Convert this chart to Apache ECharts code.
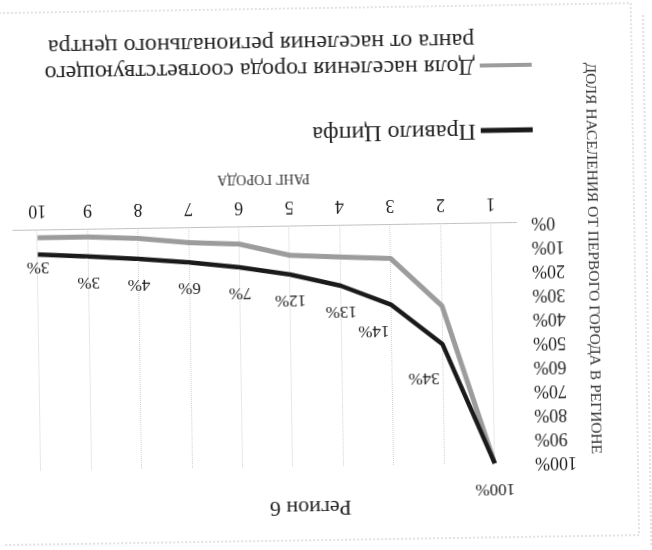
<!DOCTYPE html>
<html>
<head>
<meta charset="utf-8">
<script src="https://cdn.jsdelivr.net/npm/echarts@6/dist/echarts.min.js"></script>
<style>
html,body{margin:0;padding:0;background:#fff;}
#c{width:652px;height:550px;transform:rotate(179.1deg);transform-origin:50% 50%;}
</style>
</head>
<body>
<div id="c"></div>
<script>
var titleText = 'Регион 6';
var categories = ['1','2','3','4','5','6','7','8','9','10'];
var zipfName = 'Правило Ципфа';
var zipfValues = [100, 50, 33.3, 25, 20, 16.7, 14.3, 12.5, 11.1, 10];
var shareName = 'Доля населения города соответствующего\nранга от населения регионального центра';
var shareValues = [100, 34, 14, 13, 12, 7, 6, 4, 3, 3];
var xAxisName = 'РАНГ ГОРОДА';
var yAxisName = 'ДОЛЯ НАСЕЛЕНИЯ ОТ ПЕРВОГО ГОРОДА В РЕГИОНЕ';

var FONT = '"Liberation Serif", "Times New Roman", serif';
var chart = echarts.init(document.getElementById('c'), null, {renderer: 'canvas'});
chart.setOption({
  backgroundColor: '#ffffff',
  animation: false,
  title: {
    text: titleText, left: 299, top: 27,
    textStyle: {fontFamily: FONT, fontSize: 22, fontWeight: 'normal', color: '#222'}
  },
  legend: [{
    data: [{name: zipfName, icon: 'rect'}],
    orient: 'vertical', left: 117, top: 404, padding: 0,
    itemWidth: 52, itemHeight: 5, symbolKeepAspect: false,
    textStyle: {fontFamily: FONT, fontSize: 24, color: '#222', lineHeight: 26}
  }, {
    data: [{name: shareName, icon: 'path://M0,11H50V15H0Z M0,0H0.01V0.01H0Z M0,52H0.01V52.01H0Z'}],
    orient: 'vertical', left: 117, top: 469, padding: 0,
    itemWidth: 52, itemHeight: 52, symbolKeepAspect: false,
    textStyle: {fontFamily: FONT, fontSize: 24, color: '#222', lineHeight: 26}
  }],
  grid: {left: 135, right: 13, top: 84, bottom: 226, containLabel: false},
  xAxis: {
    type: 'category', data: categories, boundaryGap: true,
    name: xAxisName, nameLocation: 'middle', nameGap: 41,
    nameTextStyle: {fontFamily: FONT, fontSize: 14, color: '#333'},
    axisLine: {show: true, lineStyle: {color: '#b5b5b5', type: 'dotted', width: 1}},
    axisTick: {show: false},
    axisLabel: {fontFamily: FONT, fontSize: 18, color: '#222', margin: 11},
    splitLine: {show: true, alignWithLabel: true, lineStyle: {color: '#d0d0d0', type: 'dotted', width: 1}}
  },
  yAxis: {
    type: 'value', min: 0, max: 100, interval: 10,
    name: yAxisName, nameLocation: 'middle', nameGap: 62, nameRotate: 90,
    nameTextStyle: {fontFamily: FONT, fontSize: 15.5, color: '#333', padding: [0, 167, 0, 0]},
    axisLine: {show: false}, axisTick: {show: false},
    axisLabel: {fontFamily: FONT, fontSize: 18, color: '#222', margin: 15, formatter: '{value}%'},
    splitLine: {show: false}
  },
  series: [{
    name: zipfName, type: 'line', data: zipfValues, z: 3,
    showSymbol: true, symbol: 'circle', symbolSize: 0.1,
    lineStyle: {color: '#1a1a1a', width: 4.5},
    itemStyle: {color: '#1a1a1a'},
    label: {
      show: true, position: 'top', distance: 17,
      fontFamily: FONT, fontSize: 17, color: '#222',
      formatter: function (p) { return shareValues[p.dataIndex] + '%'; }
    },
    labelLayout: function (p) {
      // nudge labels that would sit on the steep segments, and the last one closer to the line
      if (p.dataIndex === 1) return {dx: 19, dy: -8};
      if (p.dataIndex === 2) return {dx: 18};
      if (p.dataIndex === categories.length - 1) return {dy: 13};
      return {};
    }
  }, {
    name: shareName, type: 'line', data: shareValues, z: 2,
    showSymbol: false, symbol: 'none',
    lineStyle: {color: '#9c9c9c', width: 5},
    itemStyle: {color: '#9c9c9c'}
  }],
  graphic: [{
    type: 'rect', silent: true, z: -1,
    shape: {x: 17, y: 10, width: 700, height: 532},
    style: {fill: null, stroke: '#c4c4c4', lineWidth: 1, lineDash: [2, 2]}
  }, {
    type: 'line', silent: true, z: -1,
    shape: {x1: 5, y1: 0, x2: 5, y2: 532},
    style: {stroke: '#c4c4c4', lineWidth: 1, lineDash: [2, 2]}
  }]
});
</script>
</body>
</html>
